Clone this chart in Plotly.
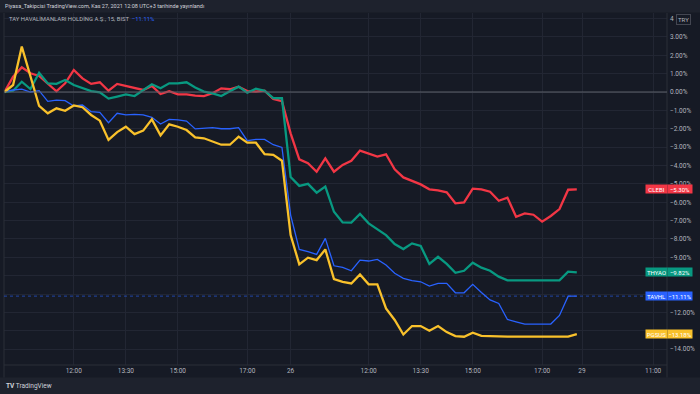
import plotly.graph_objects as go

# ---- data (percent change, 15-minute bars, 25-26 Nov 2021) ----
bar_index = list(range(67))

clebi = [0, 0.83, 1.34, 1.02, 0.87, 0.47, 0.04, 0.47, 1.20, 0.74, 0.44, 0.53, 0.07, 0.44, 0.34, 0.20,
         0.11, 0.33, -0.11, 0.04, -0.13, -0.13, -0.20, -0.22, -0.07, 0.20, 0.15, 0.29, 0.05, 0.02, 0.07,
         -0.38, -0.50, -2.25, -3.67, -3.88, -4.34, -3.61, -4.34, -3.97, -3.74, -3.19, -3.34, -3.52, -3.39,
         -4.21, -4.65, -4.84, -5.03, -5.30, -5.35, -5.46, -6.06, -6.01, -5.26, -5.30, -5.43, -5.92, -5.75,
         -6.79, -6.61, -6.68, -7.06, -6.75, -6.37, -5.32, -5.30]

thyao = [0, 0.07, 0.56, 0.16, 1.05, 0.47, 0.44, 0.65, 0.38, 0.20, 0.05, -0.02, -0.36, -0.25, -0.13, -0.22,
         0.11, 0.42, 0.20, 0.47, 0.47, 0.53, 0.25, 0.02, -0.07, -0.22, 0.04, 0.29, -0.04, 0.18, 0.07,
         -0.33, -0.34, -4.63, -5.11, -5.00, -5.48, -5.15, -6.52, -7.10, -7.11, -6.64, -7.15, -7.48, -7.79,
         -8.28, -8.55, -8.24, -8.38, -9.36, -8.97, -9.36, -9.84, -9.73, -9.29, -9.56, -9.73, -10.05, -10.25,
         -10.25, -10.25, -10.25, -10.25, -10.25, -10.25, -9.78, -9.82]

tavhl = [0, 0.11, 0.16, 0.0, 0.07, -0.51, -0.44, -0.47, -0.76, -0.71, -1.07, -1.11, -1.67, -1.16, -1.25,
         -1.22, -1.25, -1.38, -1.74, -1.49, -1.52, -1.58, -2.01, -1.96, -1.94, -2.00, -2.00, -1.94, -2.65,
         -2.58, -2.58, -2.87, -3.02, -6.70, -8.57, -8.69, -8.84, -7.97, -9.46, -9.55, -9.73, -9.15, -9.20,
         -9.11, -9.42, -9.87, -10.14, -10.27, -10.33, -10.56, -10.42, -10.42, -10.93, -10.93, -10.47, -10.91,
         -11.32, -11.51, -12.38, -12.51, -12.63, -12.63, -12.63, -12.63, -12.16, -11.11, -11.11]

pgsus = [0, 0.38, 2.47, 0.90, -0.76, -1.16, -0.89, -1.02, -0.73, -0.83, -1.25, -1.56, -2.61, -2.18, -1.89,
         -2.29, -2.10, -1.49, -2.36, -1.76, -1.89, -2.07, -2.47, -2.52, -2.70, -2.87, -2.87, -2.43, -2.76,
         -2.76, -3.38, -3.42, -3.74, -7.79, -9.38, -9.02, -9.15, -8.57, -10.18, -10.33, -10.42, -9.93,
         -10.47, -10.47, -11.78, -12.41, -13.20, -12.74, -12.74, -12.99, -12.74, -13.07, -13.29, -13.32,
         -13.10, -13.27, -13.29, -13.32, -13.32, -13.32, -13.32, -13.32, -13.32, -13.32, -13.32, -13.32, -13.18]

x_tick_pos = [8, 14, 20, 28, 33, 42, 48, 54, 62, 66.6, 74.8]
x_tick_text = ["12:00", "13:30", "15:00", "17:00", "26", "12:00", "13:30", "15:00", "17:00", "29", "11:00"]

y_tick_vals = [4, 3, 2, 1, 0, -1, -2, -3, -4, -5, -6, -7, -8, -9, -10, -11, -12, -13, -14]
y_hidden = [-10, -11, -13]

series = [
    ("CLEBI", clebi, "#f23645", 2.3),
    ("THYAO", thyao, "#089981", 2.3),
    ("TAVHL", tavhl, "#2962ff", 1.3),
    ("PGSUS", pgsus, "#f9c12b", 2.3),
]

BG = "#161a25"
FRAME = "#1e222d"
GRID = "#222633"
TXT = "#b2b5be"
FONT = "Roboto, Liberation Sans, sans-serif"

W, H = 700, 394
ML, MR, MT, MB = 4, 33, 13, 29
PW, PH = W - ML - MR, H - MT - MB


def px2paper_x(px):
    return (px - ML) / PW


def px2paper_y(py):
    return (H - MB - py) / PH


def fmt(v):
    s = f"{abs(v):.2f}%"
    return ("\u2212" + s) if v < 0 else s


fig = go.Figure()

for name, vals, color, w in series:
    fig.add_trace(go.Scatter(x=bar_index, y=vals, mode="lines", name=name,
                             line=dict(color=color, width=w), hoverinfo="skip"))

y_tick_text = []
for v in y_tick_vals:
    if v in y_hidden:
        y_tick_text.append("")
    elif v == 4:
        y_tick_text.append("4")
    else:
        y_tick_text.append(fmt(v))

shapes = []
# frame strips (title bar and footer)
shapes.append(dict(type="rect", xref="paper", yref="paper", x0=px2paper_x(0), x1=px2paper_x(W),
                   y0=px2paper_y(0), y1=px2paper_y(12.5), fillcolor=FRAME, line=dict(width=0), layer="below"))
shapes.append(dict(type="rect", xref="paper", yref="paper", x0=px2paper_x(0), x1=px2paper_x(W),
                   y0=px2paper_y(377.5), y1=px2paper_y(H), fillcolor=FRAME, line=dict(width=0), layer="below"))
# right axis border and pane borders
shapes.append(dict(type="line", xref="paper", yref="paper", x0=1, x1=1, y0=px2paper_y(377.5), y1=1,
                   line=dict(color="#2a2e39", width=1)))
shapes.append(dict(type="line", xref="paper", yref="paper", x0=0, x1=1, y0=0, y1=0,
                   line=dict(color="#2a2e39", width=1)))
shapes.append(dict(type="line", xref="paper", yref="paper", x0=0, x1=0, y0=px2paper_y(377.5), y1=1,
                   line=dict(color="#2a2e39", width=1)))
# zero line
shapes.append(dict(type="line", xref="paper", yref="y", x0=0, x1=1, y0=0, y1=0,
                   line=dict(color="#5d606b", width=1)))
# TAVHL price line
shapes.append(dict(type="line", xref="paper", yref="y", x0=0, x1=1, y0=tavhl[-1], y1=tavhl[-1],
                   line=dict(color="rgba(41,98,255,0.6)", width=1, dash="dot")))

annotations = []
annotations.append(dict(xref="paper", yref="paper", x=px2paper_x(3), y=px2paper_y(6.5), xanchor="left",
                        yanchor="middle", showarrow=False,
                        text="Piyasa_Takipcisi TradingView.com, Kas 27, 2021 12:08 UTC+3 tarihinde yayınlandı",
                        font=dict(family=FONT, size=5.5, color="#d1d4dc")))
annotations.append(dict(xref="paper", yref="paper", x=px2paper_x(7), y=px2paper_y(18.5), xanchor="left",
                        yanchor="middle", showarrow=False,
                        text="TAY HAVALİMANLARI HOLDİNG A.Ş., 15, BIST  <span style='color:#2962ff'>"
                             + fmt(tavhl[-1]) + "</span>",
                        font=dict(family=FONT, size=5.9, color=TXT)))
annotations.append(dict(xref="paper", yref="paper", x=px2paper_x(683), y=px2paper_y(19), xanchor="center",
                        yanchor="middle", showarrow=False, text="TRY", borderpad=1,
                        bordercolor="#434651", borderwidth=1, bgcolor=BG,
                        font=dict(family=FONT, size=6, color=TXT)))
annotations.append(dict(xref="paper", yref="paper", x=px2paper_x(4), y=px2paper_y(386), xanchor="left",
                        yanchor="middle", showarrow=False,
                        text="<b>TV</b> TradingView",
                        font=dict(family=FONT, size=6.5, color="#d1d4dc")))

for name, vals, color, w in series:
    last = vals[-1]
    annotations.append(dict(xref="paper", yref="y", x=px2paper_x(656.5), y=last, xanchor="center",
                            yanchor="middle", showarrow=False, text=name, width=20, height=7,
                            bgcolor=color, borderpad=0.5,
                            font=dict(family=FONT, size=6, color="#ffffff")))
    annotations.append(dict(xref="paper", yref="y", x=px2paper_x(680), y=last, xanchor="center",
                            yanchor="middle", showarrow=False, text=fmt(last), width=23, height=7,
                            bgcolor=color, borderpad=0.5,
                            font=dict(family=FONT, size=6, color="#ffffff")))

fig.update_layout(
    width=W, height=H,
    margin=dict(l=ML, r=MR, t=MT, b=MB, pad=0),
    paper_bgcolor=BG, plot_bgcolor=BG,
    showlegend=False,
    font=dict(family=FONT, size=7, color=TXT),
    xaxis=dict(range=[-0.05, 76.4], tickmode="array", tickvals=x_tick_pos, ticktext=x_tick_text,
               showgrid=True, gridcolor=GRID, gridwidth=1, zeroline=False, showline=False,
               ticks="", tickfont=dict(size=6.5, color=TXT), fixedrange=True),
    yaxis=dict(range=[-14.86, 4.30], side="right", tickmode="array", tickvals=y_tick_vals,
               ticktext=y_tick_text, showgrid=True, gridcolor=GRID, gridwidth=1, zeroline=False,
               showline=False, ticks="", ticklabelstandoff=2, tickfont=dict(size=6.5, color=TXT),
               fixedrange=True),
    shapes=shapes,
    annotations=annotations,
)

fig.write_html(
    "out.html",
    config={"displayModeBar": False, "staticPlot": True},
    post_script="document.body.style.margin='0';document.body.style.padding='0';"
                "document.body.style.overflow='hidden';document.body.style.background='" + BG + "';",
)
